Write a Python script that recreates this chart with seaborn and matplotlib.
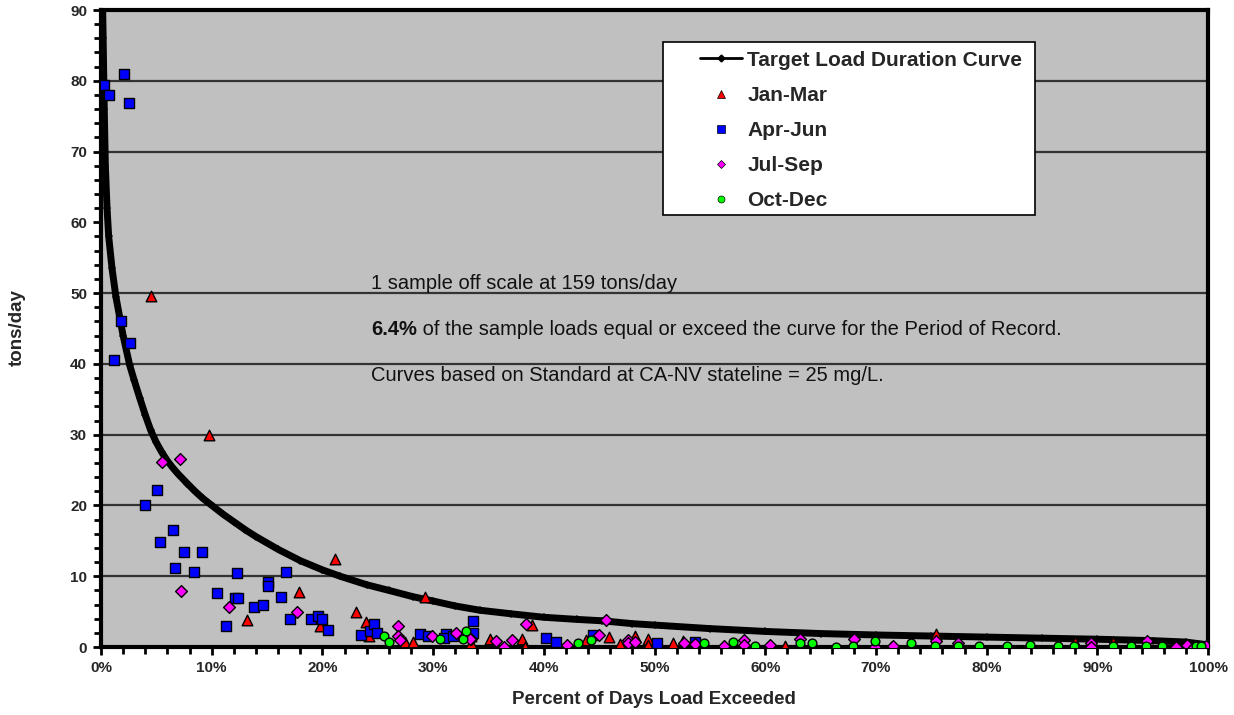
import numpy as np
import pandas as pd
import matplotlib
matplotlib.use("Agg")
import matplotlib.pyplot as plt
from matplotlib.lines import Line2D
from matplotlib.patches import Rectangle
from matplotlib.ticker import MultipleLocator, FuncFormatter
import seaborn as sns

# Target load duration curve (percent of days exceeded, tons/day)
curve_pct = [0.0, 0.05, 0.2, 0.3, 0.4, 0.55, 0.7, 1.0, 1.35, 2.0, 2.6, 3.0, 3.5, 4.0,
             4.5, 5.0, 5.5, 6.0, 6.5, 7.0, 7.8, 8.5, 9.2, 10.1, 11.0, 12.0, 13.0, 14.0,
             16.0, 18.0, 20.0, 21.6, 24.0, 26.0, 28.2, 30.0, 32.0, 34.2, 37.0, 40.0,
             43.0, 45.3, 48.0, 50.0, 55.0, 60.0, 65.0, 70.0, 75.0, 80.0, 85.0, 90.0,
             95.0, 98.0, 100.0]
curve_load = [130, 100, 86, 76, 68, 62, 58, 53.5, 49.5, 44.0, 39.8, 37.7, 35.2, 32.8,
              30.6, 28.9, 27.5, 26.3, 25.3, 24.4, 23.1, 22.0, 21.0, 19.9, 18.8, 17.7, 16.6, 15.6,
              13.8, 12.2, 10.9, 10.0, 8.8, 8.0, 7.1, 6.5, 5.8, 5.2, 4.7, 4.2,
              3.9, 3.7, 3.3, 3.1, 2.6, 2.2, 1.9, 1.7, 1.55, 1.4, 1.25, 1.1,
              0.9, 0.7, 0.3]

# Sample loads by season
jan_mar_pct = [4.5, 9.8, 21.1, 17.9, 13.2, 23.0, 23.9, 19.8, 24.2, 29.3, 27.5, 28.2,
               33.4, 33.4, 38.9, 35.1, 38.0, 38.3, 43.8, 45.9, 48.2, 46.9, 49.4, 49.4,
               51.7, 52.6, 53.7, 61.8, 75.4, 71.4, 77.4, 88.0, 89.4, 91.4, 73.2]
jan_mar_load = [49.6, 29.9, 12.4, 7.8, 3.8, 5.0, 3.6, 3.0, 1.6, 7.1, 0.7, 0.7,
                1.6, 0.5, 3.1, 1.1, 1.2, 0.05, 1.0, 1.4, 1.6, 0.4, 1.2, 0.3,
                0.6, 0.9, 0.0, 0.2, 1.9, 0.0, 0.0, 0.7, 0.0, 0.7, 0.0]

apr_jun_pct = [0.3, 0.7, 2.1, 2.5, 1.8, 2.6, 1.2, 5.1, 4.0, 6.5, 5.3, 7.5, 9.1,
               6.7, 8.4, 12.3, 16.7, 10.5, 12.1, 12.4, 15.1, 15.1, 16.3, 13.8, 14.6,
               11.3, 17.1, 19.0, 19.6, 20.0, 20.5, 23.5, 24.3, 24.7, 24.9, 28.8,
               29.5, 31.2, 31.0, 31.8, 33.6, 33.6, 40.2, 41.1, 44.4, 50.2, 53.7]
apr_jun_load = [79.4, 78.0, 81.0, 76.9, 46.1, 43.0, 40.5, 22.2, 20.0, 16.5, 14.8, 13.4, 13.4,
                11.1, 10.6, 10.4, 10.6, 7.7, 6.9, 6.9, 9.2, 8.6, 7.1, 5.6, 5.9,
                3.0, 4.0, 4.0, 4.4, 3.9, 2.4, 1.7, 2.3, 3.3, 2.0, 1.9,
                1.6, 1.9, 1.3, 1.5, 3.7, 2.0, 1.3, 0.7, 1.7, 0.5, 0.7]

jul_sep_pct = [5.5, 7.1, 7.2, 11.6, 17.7, 26.8, 26.8, 27.0, 29.9, 32.1, 33.4, 38.4,
               45.6, 33.3, 35.7, 36.4, 37.1, 42.1, 45.0, 47.6, 47.6, 48.2, 52.7, 53.7,
               56.3, 58.1, 58.1, 60.4, 63.1, 68.0, 69.9, 71.5, 75.4, 77.4, 89.4, 89.4,
               94.5, 97.1, 98.1, 98.7, 99.8]
jul_sep_load = [26.2, 26.6, 7.9, 5.7, 4.9, 3.0, 1.6, 1.0, 1.6, 2.0, 1.1, 3.2,
                3.8, 1.1, 0.8, 0.0, 1.0, 0.3, 1.7, 1.0, 0.5, 0.7, 0.5, 0.4,
                0.1, 1.0, 0.3, 0.3, 1.2, 1.1, 0.0, 0.1, 0.8, 0.6, 0.6, 0.0,
                0.9, 0.0, 0.3, 0.0, 0.1]

oct_dec_pct = [25.6, 26.0, 30.6, 32.7, 33.0, 43.1, 44.3, 54.5, 57.1, 59.1, 63.1, 64.2,
               66.4, 67.9, 69.9, 73.2, 75.3, 77.4, 79.3, 81.8, 83.9, 86.4, 87.9, 91.4,
               93.0, 94.4, 95.8, 98.9, 99.4]
oct_dec_load = [1.6, 0.7, 1.2, 1.1, 2.3, 0.5, 1.0, 0.5, 0.7, 0.2, 0.5, 0.6,
                0.05, 0.2, 0.8, 0.6, 0.1, 0.1, 0.2, 0.2, 0.3, 0.2, 0.2, 0.2,
                0.1, 0.1, 0.2, 0.1, 0.1]

y_ticks = [0, 10, 20, 30, 40, 50, 60, 70, 80, 90]
grid_levels = [10, 20, 30, 40, 50, 70, 80]

sns.set_theme(style="white")
plt.rcParams["font.family"] = ["Liberation Sans", "DejaVu Sans"]

fig = plt.figure(figsize=(12.34, 7.15), dpi=100)
ax = fig.add_axes([0.0818, 0.0951, 0.8972, 0.8909])
ax.set_facecolor("#C0C0C0")

for g in grid_levels:
    ax.axhline(g, color="#333333", lw=1.6, zorder=1)

curve_df = pd.DataFrame({"pct": curve_pct, "load": curve_load})
sns.lineplot(data=curve_df, x="pct", y="load", ax=ax, color="black", lw=5,
             marker="D", markersize=4, markeredgewidth=0, zorder=3, legend=False)

season_styles = [
    ("Jan-Mar", jan_mar_pct, jan_mar_load, "#FF0000", "^", 58),
    ("Apr-Jun", apr_jun_pct, apr_jun_load, "#0000FF", "s", 50),
    ("Jul-Sep", jul_sep_pct, jul_sep_load, "#FF00FF", "D", 36),
    ("Oct-Dec", oct_dec_pct, oct_dec_load, "#00FF00", "o", 40),
]
for name, xs, ys, col, mk, sz in season_styles:
    df = pd.DataFrame({"pct": xs, "load": ys})
    sns.scatterplot(data=df, x="pct", y="load", ax=ax, color=col, marker=mk, s=sz,
                    edgecolor="black", linewidth=1.0, zorder=4, legend=False)

ax.set_xlim(0, 100)
ax.set_ylim(0, 90)
ax.set_yticks(y_ticks)
ax.yaxis.set_minor_locator(MultipleLocator(2))
ax.xaxis.set_major_locator(MultipleLocator(10))
ax.xaxis.set_minor_locator(MultipleLocator(2))
ax.xaxis.set_major_formatter(FuncFormatter(lambda v, p: f"{int(round(v))}%"))
ax.tick_params(axis="both", which="major", direction="out", length=6, width=2,
               color="black", labelsize=11, pad=4, bottom=True, left=True)
ax.tick_params(axis="both", which="minor", direction="out", length=5, width=2,
               color="black", bottom=True, left=True)
for lab in ax.get_xticklabels() + ax.get_yticklabels():
    lab.set_fontweight("bold")

for side in ["left", "bottom", "top", "right"]:
    ax.spines[side].set_visible(True)
    ax.spines[side].set_color("black")
    ax.spines[side].set_linewidth(3)

ax.set_xlabel("")
ax.set_ylabel("")
fig.text(654 / 1234, 1 - 700 / 715, "Percent of Days Load Exceeded", fontsize=13.5,
         fontweight="bold", ha="center", va="center")
fig.text(17 / 1234, 1 - 328 / 715, "tons/day", fontsize=13.5, fontweight="bold",
         ha="center", va="center", rotation=90)

# Notes inside the plot
note_size = 14.5
ax.text(24.4, 51.4, "1 sample off scale at 159 tons/day", fontsize=note_size,
        va="center", ha="left", color="#111111", zorder=5)
bold_part = ax.text(24.4, 44.8, "6.4%", fontsize=note_size, fontweight="bold",
                    va="center", ha="left", color="#111111", zorder=5)
ax.annotate(" of the sample loads equal or exceed the curve for the Period of Record.",
            xy=(1, 0.5), xycoords=bold_part, va="center", ha="left",
            fontsize=note_size, color="#111111", zorder=5)
ax.text(24.4, 38.4, "Curves based on Standard at CA-NV stateline = 25 mg/L.",
        fontsize=note_size, va="center", ha="left", color="#111111", zorder=5)

# Legend box
box = Rectangle((0.508, 0.678), 0.336, 0.272, transform=ax.transAxes,
                facecolor="white", edgecolor="black", lw=1.2, zorder=6)
ax.add_patch(box)
handles = [
    Line2D([], [], color="black", lw=2, marker="D", markersize=3.5),
    Line2D([], [], color="none", marker="^", markerfacecolor="#FF0000",
           markeredgecolor="black", markeredgewidth=0.5, markersize=6),
    Line2D([], [], color="none", marker="s", markerfacecolor="#0000FF",
           markeredgecolor="black", markeredgewidth=0.5, markersize=5.5),
    Line2D([], [], color="none", marker="D", markerfacecolor="#FF00FF",
           markeredgecolor="black", markeredgewidth=0.5, markersize=4.5),
    Line2D([], [], color="none", marker="o", markerfacecolor="#00FF00",
           markeredgecolor="black", markeredgewidth=0.5, markersize=5),
]
labels = ["Target Load Duration Curve", "Jan-Mar", "Apr-Jun", "Jul-Sep", "Oct-Dec"]
leg = ax.legend(handles, labels, loc="upper left", bbox_to_anchor=(0.541, 0.936),
                frameon=False, prop={"size": 15, "weight": "bold"},
                handlelength=2.0, handletextpad=0.28, labelspacing=0.77,
                borderpad=0, borderaxespad=0)
leg.set_zorder(7)

fig.savefig("out.png", dpi=100, facecolor="white")
